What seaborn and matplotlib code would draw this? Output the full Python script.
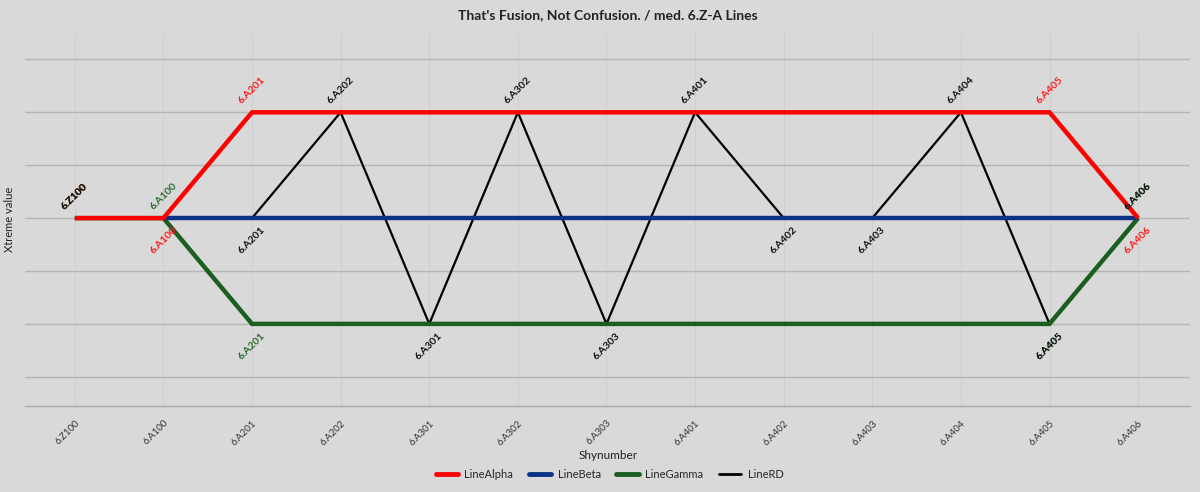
import numpy as np
import pandas as pd
import seaborn as sns
import matplotlib
matplotlib.use("Agg")
import matplotlib.pyplot as plt

# Станции по оси X
stations = ["6.Z100", "6.A100", "6.A201", "6.A202", "6.A301", "6.A302", "6.A303",
            "6.A401", "6.A402", "6.A403", "6.A404", "6.A405", "6.A406"]

# Значения линий (NaN - линия в этой точке не проходит)
line_alpha = [0, 0, 2, 2, 2, 2, 2, 2, 2, 2, 2, 2, 0]
line_beta = [np.nan, 0, 0, 0, 0, 0, 0, 0, 0, 0, 0, 0, 0]
line_gamma = [0, 0, -2, -2, -2, -2, -2, -2, -2, -2, -2, -2, 0]
line_rd = [0, 0, 0, 2, -2, 2, -2, 2, 0, 0, 2, -2, 0]

series_names = ["LineAlpha", "LineBeta", "LineGamma", "LineRD"]
series_values = [line_alpha, line_beta, line_gamma, line_rd]
show_labels = [True, False, True, True]

colors = {"LineAlpha": "#ff0000", "LineBeta": "#0b3385", "LineGamma": "#1b5e20", "LineRD": "#000000"}
label_colors = {"LineAlpha": "#ff1a1a", "LineBeta": "#0b3385", "LineGamma": "#2e6b2e", "LineRD": "#111111"}
widths = {"LineAlpha": 3.2, "LineBeta": 3.2, "LineGamma": 3.2, "LineRD": 1.6}
zorders = {"LineAlpha": 5, "LineBeta": 4, "LineGamma": 3, "LineRD": 2}

bg = "#d9d9d9"
sns.set_theme(style="white")
plt.rcParams["font.family"] = ["Lato", "DejaVu Sans"]

fig, ax = plt.subplots(figsize=(12, 4.92), dpi=100)
fig.patch.set_facecolor(bg)
ax.set_facecolor(bg)
fig.subplots_adjust(left=0.021, right=0.992, top=0.933, bottom=0.175)

pos = np.arange(len(stations))

# Рисуем линии
for name, vals in zip(series_names, series_values):
    df = pd.DataFrame({"pos": pos, "value": vals}).dropna()
    sns.lineplot(data=df, x="pos", y="value", ax=ax, color=colors[name],
                 linewidth=widths[name], label=name, zorder=zorders[name],
                 solid_capstyle="butt", solid_joinstyle="miter", legend=False)

# Подписи в точках изломов: сверху для локального максимума, снизу иначе
for name, vals, show in zip(series_names, series_values, show_labels):
    if not show:
        continue
    df = pd.DataFrame({"pos": pos, "value": vals, "st": stations}).dropna().reset_index(drop=True)
    n = len(df)
    for i in range(n):
        v = df.loc[i, "value"]
        prev_v = df.loc[i - 1, "value"] if i > 0 else None
        next_v = df.loc[i + 1, "value"] if i < n - 1 else None
        if prev_v is not None and next_v is not None and (v - prev_v) == (next_v - v):
            continue  # прямой участок, подпись не нужна
        neigh = [x for x in (prev_v, next_v) if x is not None]
        above = all(v >= x for x in neigh)
        ax.annotate(df.loc[i, "st"], (df.loc[i, "pos"], v),
                    xytext=(0, 5 if above else -5), textcoords="offset points",
                    ha="center", va="bottom" if above else "top", rotation=45,
                    fontsize=7.5, fontweight="bold", color=label_colors[name],
                    zorder=10)

ax.set_xlim(-0.56, 12.59)
ax.set_ylim(-3.55, 3.5)
ax.set_xticks(pos)
ax.set_xticklabels(stations, rotation=45, ha="right", rotation_mode="anchor",
                   fontsize=7, color="#333333")
ax.set_yticks(range(-3, 4))
ax.set_yticklabels([])
ax.tick_params(axis="x", length=3, color="#777777", pad=6)
ax.tick_params(axis="y", length=0)

ax.grid(axis="y", color="#b5b5b5", linewidth=1.0)
ax.grid(axis="x", color="#cdcdcd", linewidth=0.6)
ax.set_axisbelow(True)

for s in ["left", "right", "top"]:
    ax.spines[s].set_visible(False)
ax.spines["bottom"].set_color("#aaaaaa")
ax.spines["bottom"].set_linewidth(1.0)

ax.set_xlabel("Shynumber", fontsize=8.5, color="#222222", labelpad=2)
ax.set_ylabel("Xtreme value", fontsize=8, color="#222222", labelpad=4)
ax.set_title("That's Fusion, Not Confusion. / med. 6.Z-A Lines", fontsize=10,
             fontweight="bold", color="#222222", pad=10)

# Легенда внизу, по центру
handles = [plt.Line2D([], [], color=colors[n], linewidth=3.5 if n != "LineRD" else 2.0,
                      solid_capstyle="round") for n in series_names]
fig.legend(handles, series_names, loc="center", bbox_to_anchor=(0.508, 0.036), ncol=4,
           frameon=False, fontsize=8, handlelength=2.0, handletextpad=0.6,
           columnspacing=1.4)

fig.savefig("out.png", dpi=100, facecolor=bg)
